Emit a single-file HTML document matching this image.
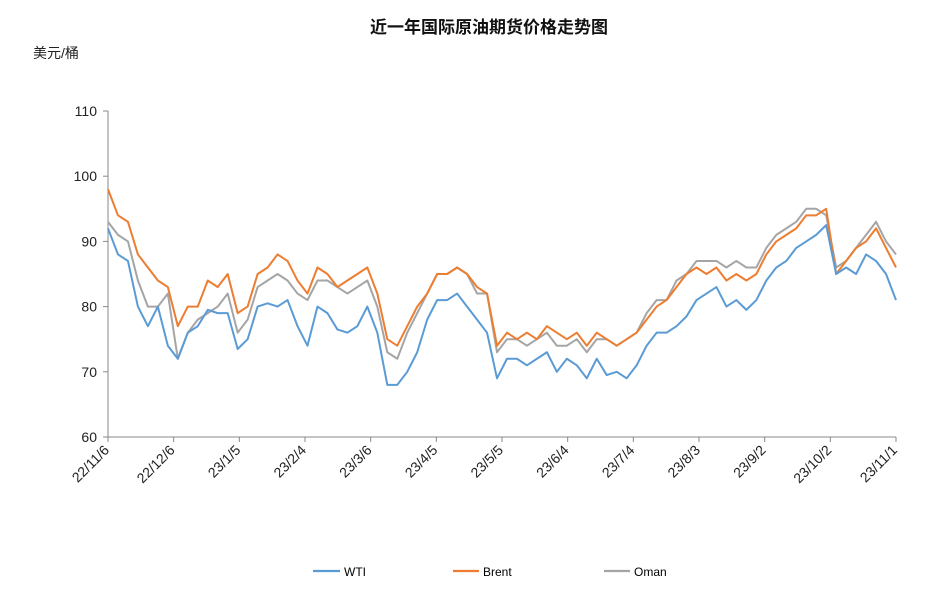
<!DOCTYPE html>
<html><head><meta charset="utf-8"><style>
body{margin:0;background:#fff;font-family:"Liberation Sans","Noto Sans CJK SC",sans-serif}
svg text{font-family:"Liberation Sans","Noto Sans CJK SC",sans-serif}
</style></head><body>
<svg id="c" width="939" height="601" xmlns="http://www.w3.org/2000/svg">
<text x="489" y="33" text-anchor="middle" font-size="17" font-weight="bold" fill="#111">近一年国际原油期货价格走势图</text>
<text x="33" y="58" font-size="14" fill="#222">美元/桶</text>
<g id="axes"></g>
<g id="lines"></g>
<g>
<line x1="313" y1="571" x2="340" y2="571" stroke="#5b9bd5" stroke-width="2.2"/><text x="344" y="576" font-size="12" font-family="Liberation Mono">WTI</text>
<line x1="453" y1="571" x2="479" y2="571" stroke="#ed7d31" stroke-width="2.2"/><text x="483" y="576" font-size="12" font-family="Liberation Mono">Brent</text>
<line x1="604" y1="571" x2="630" y2="571" stroke="#a5a5a5" stroke-width="2.2"/><text x="634" y="576" font-size="12" font-family="Liberation Mono">Oman</text>
</g>
</svg>
<script>
const yTicks=[60,70,80,90,100,110];
const xLabels=["22/11/6","22/12/6","23/1/5","23/2/4","23/3/6","23/4/5","23/5/5","23/6/4","23/7/4","23/8/3","23/9/2","23/10/2","23/11/1"];
const wti=[92,88,87,80,77,80,74,72,76,77,79.5,79,79,73.5,75,80,80.5,80,81,77,74,80,79,76.5,76,77,80,76,68,68,70,73,78,81,81,82,80,78,76,69,72,72,71,72,73,70,72,71,69,72,69.5,70,69,71,74,76,76,77,78.5,81,82,83,80,81,79.5,81,84,86,87,89,90,91,92.5,85,86,85,88,87,85,81];
const brent=[98,94,93,88,86,84,83,77,80,80,84,83,85,79,80,85,86,88,87,84,82,86,85,83,84,85,86,82,75,74,77,80,82,85,85,86,85,83,82,74,76,75,76,75,77,76,75,76,74,76,75,74,75,76,78,80,81,83,85,86,85,86,84,85,84,85,88,90,91,92,94,94,95,85,87,89,90,92,89,86];
const oman=[93,91,90,84,80,80,82,72,76,78,79,80,82,76,78,83,84,85,84,82,81,84,84,83,82,83,84,80,73,72,76,79,82,85,85,86,85,82,82,73,75,75,74,75,76,74,74,75,73,75,75,74,75,76,79,81,81,84,85,87,87,87,86,87,86,86,89,91,92,93,95,95,94,86,87,89,91,93,90,88];
const X0=108,X1=896,Y0=437,Y1=111;
const ys=v=>Y0-(v-60)/(110-60)*(Y0-Y1);
const xs=(i,n)=>X0+i*(X1-X0)/(n-1);
const NS="http://www.w3.org/2000/svg";
const ax=document.getElementById('axes'),ln=document.getElementById('lines');
function mk(tag,at,p){const e=document.createElementNS(NS,tag);for(const k in at)e.setAttribute(k,at[k]);p.appendChild(e);return e;}
const ya=mk('line',{x1:X0,y1:Y1,x2:X0,y2:Y0,stroke:'#888'},ax);


const xa=mk('line',{x1:X0,y1:Y0,x2:X1,y2:Y0,stroke:'#888'},ax);


yTicks.forEach(v=>{
  mk('line',{x1:X0-5,y1:ys(v),x2:X0,y2:ys(v),stroke:'#888'},ax);
  const t=mk('text',{x:97,y:ys(v)+5,'text-anchor':'end','font-size':14,fill:'#222'},ax);
  t.textContent=v;
  
  
});
xLabels.forEach((s,i)=>{
  const x=xs(i,xLabels.length);
  mk('line',{x1:x,y1:Y0,x2:x,y2:Y0+5,stroke:'#888'},ax);
  const t=mk('text',{x:x+2,y:Y0+14,'text-anchor':'end','font-size':14,fill:'#222',transform:`rotate(-45 ${x+2} ${Y0+14})`},ax);
  t.textContent=s;
  
  
});
function line(d,c,name){
  const p=mk('polyline',{points:d.map((v,i)=>xs(i,d.length)+','+ys(v)).join(' '),fill:'none',stroke:c,'stroke-width':2,'stroke-linejoin':'round'},ln);
  
  
}
line(oman,'#a5a5a5','oman-line');
line(brent,'#ed7d31','brent-line');
line(wti,'#5b9bd5','wti-line');
</script>
</body></html>
